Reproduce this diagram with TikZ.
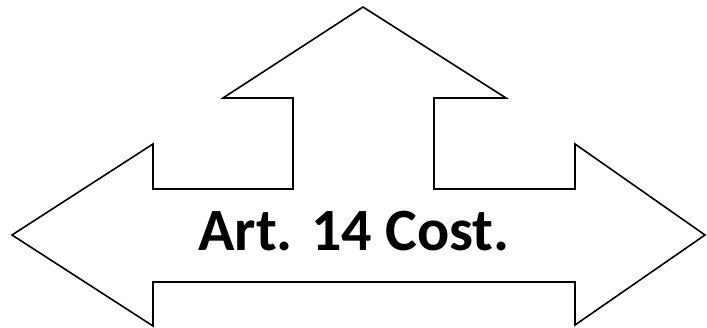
\documentclass[tikz,border=0pt]{standalone}
\usepackage{fontspec}
\setmainfont{Carlito}
\usetikzlibrary{positioning}
\tikzset{
  arrowshape/.style={draw=black, line width=1.6pt, fill=white, line join=miter},
  labeltext/.style={font=\bfseries\fontsize{60}{66}\selectfont, inner sep=0pt}
}
\begin{document}
\begin{tikzpicture}[x=1pt, y=-1pt]
  \useasboundingbox (0,0) rectangle (707,328);

  % freccia a tre vie
  \draw[arrowshape]
    (12,235) -- (153,144) -- (153,189) -- (293,189) -- (293,98) -- (223,98)
    -- (363,7) -- (506,98) -- (434,98) -- (434,189) -- (575,189) -- (575,144)
    -- (705,235) -- (575,325) -- (575,282) -- (153,282) -- (153,326) -- cycle;

  % testo
  \node[labeltext, anchor=base] (titolo) at (354,251) {Art. 14 Cost.};
\end{tikzpicture}
\end{document}
